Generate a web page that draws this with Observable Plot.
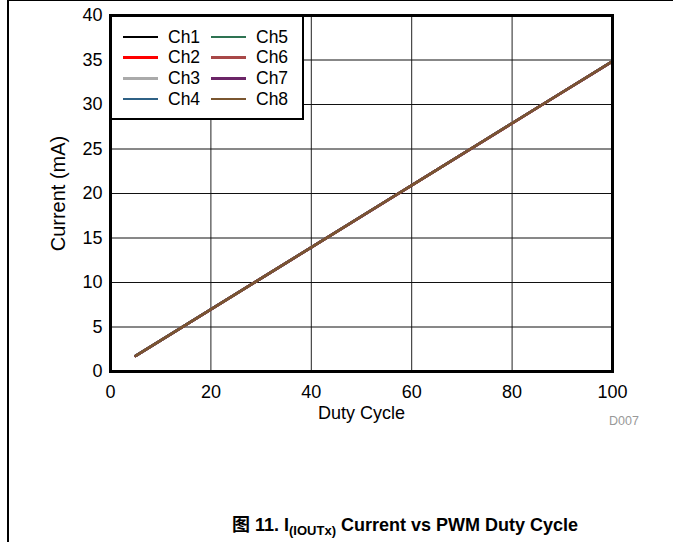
<!DOCTYPE html>
<html>
<head>
<meta charset="utf-8">
<script src="https://cdn.jsdelivr.net/npm/d3@7"></script>
<script src="https://cdn.jsdelivr.net/npm/@observablehq/plot@0.6"></script>
<style>
  html, body { margin: 0; padding: 0; background: #fff; }
  body { width: 673px; height: 542px; position: relative; overflow: hidden; font-family: "Liberation Sans", Arial, sans-serif; }
  #chart { position: absolute; left: 0; top: 0; }
  #frameTop { position: absolute; left: 7px; top: 0; width: 666px; height: 1px; background: #000; }
  #frameLeft { position: absolute; left: 7px; top: 0; width: 2px; height: 542px; background: #000; }
  #legend { position: absolute; left: 110px; top: 15px; width: 190px; height: 101px; border: 2.5px solid #000; background: #fff; }
  .item { position: absolute; height: 20px; display: flex; align-items: center; font-size: 17.5px; color: #000; }
  .swatch { width: 35px; height: 2.5px; margin-right: 10px; }
  #code { position: absolute; left: 609px; top: 414px; font-size: 12.5px; color: #999; }
  #caption { position: absolute; left: 0; width: 810px; top: 514px; line-height: 18px; text-align: center; font-size: 18px; font-weight: bold; font-family: "Liberation Sans", "Noto Sans CJK SC", sans-serif; white-space: nowrap; }
  #caption .sub { font-size: 13px; position: relative; top: 4px; }
</style>
</head>
<body>
<div id="chart"></div>
<div id="frameTop"></div>
<div id="frameLeft"></div>
<div id="legend"></div>
<div id="code">D007</div>
<div id="caption"><span style="font-family:'Noto Sans CJK SC'">图</span> 11. I<span class="sub">(IOUTx)</span> Current vs PWM Duty Cycle</div>
<script>
const duty = [5, 10, 15, 20, 25, 30, 35, 40, 45, 50, 55, 60, 65, 70, 75, 80, 85, 90, 95, 100];
const ch1 = [1.75, 3.50, 5.24, 6.98, 8.72, 10.47, 12.21, 13.95, 15.69, 17.43, 19.18, 20.92, 22.66, 24.40, 26.15, 27.89, 29.63, 31.37, 33.11, 34.85];
const ch2 = [1.74, 3.49, 5.23, 6.97, 8.71, 10.46, 12.20, 13.94, 15.68, 17.42, 19.17, 20.91, 22.65, 24.39, 26.14, 27.88, 29.62, 31.36, 33.10, 34.84];
const ch3 = [1.76, 3.50, 5.25, 6.99, 8.73, 10.48, 12.22, 13.96, 15.70, 17.44, 19.19, 20.93, 22.67, 24.41, 26.16, 27.90, 29.64, 31.38, 33.12, 34.86];
const ch4 = [1.75, 3.49, 5.24, 6.98, 8.72, 10.46, 12.21, 13.95, 15.69, 17.43, 19.17, 20.92, 22.66, 24.40, 26.14, 27.89, 29.63, 31.37, 33.11, 34.85];
const ch5 = [1.75, 3.50, 5.24, 6.99, 8.73, 10.47, 12.22, 13.96, 15.70, 17.44, 19.18, 20.93, 22.67, 24.41, 26.15, 27.90, 29.64, 31.38, 33.12, 34.87];
const ch6 = [1.74, 3.49, 5.23, 6.98, 8.72, 10.46, 12.20, 13.95, 15.69, 17.43, 19.17, 20.91, 22.66, 24.40, 26.14, 27.88, 29.63, 31.37, 33.11, 34.85];
const ch7 = [1.75, 3.50, 5.24, 6.98, 8.73, 10.47, 12.21, 13.95, 15.70, 17.44, 19.18, 20.92, 22.67, 24.41, 26.15, 27.89, 29.64, 31.38, 33.12, 34.86];
const ch8 = [1.75, 3.50, 5.24, 6.98, 8.72, 10.47, 12.21, 13.95, 15.69, 17.44, 19.18, 20.92, 22.66, 24.41, 26.15, 27.89, 29.63, 31.38, 33.12, 34.86];
const channels = ["Ch1", "Ch2", "Ch3", "Ch4", "Ch5", "Ch6", "Ch7", "Ch8"];
const colors = ["#000000", "#ff0000", "#aaaaaa", "#2f6185", "#2e7352", "#a84848", "#6b2567", "#7a5630"];
const xTicks = [0, 20, 40, 60, 80, 100];
const yTicks = [0, 5, 10, 15, 20, 25, 30, 35, 40];

const series = [ch1, ch2, ch3, ch4, ch5, ch6, ch7, ch8];
const rows = [];
series.forEach((vals, i) => vals.forEach((v, j) => rows.push({ch: channels[i], duty: duty[j], current: v})));

const chart = Plot.plot({
  width: 673,
  height: 440,
  marginLeft: 110,
  marginRight: 61,
  marginTop: 15,
  marginBottom: 69,
  style: {fontFamily: "'Liberation Sans', Arial, sans-serif", fontSize: "18px", color: "#000", background: "transparent"},
  x: {domain: [0, 100]},
  y: {domain: [0, 40]},
  color: {domain: channels, range: colors},
  marks: [
    Plot.gridX(xTicks.slice(1, -1), {stroke: "#222", strokeOpacity: 1, strokeWidth: 1}),
    Plot.gridY(yTicks.slice(1, -1), {stroke: "#111", strokeOpacity: 1, strokeWidth: 1}),
    Plot.axisX(xTicks, {tickSize: 0, tickPadding: 14, fontSize: 18, label: null}),
    Plot.axisX({ticks: [], tickSize: 0, fontSize: 18, label: "Duty Cycle", labelAnchor: "center", labelArrow: "none", labelOffset: 47}),
    Plot.axisY(yTicks, {tickSize: 0, tickPadding: 8, fontSize: 18, label: null}),
    Plot.axisY({ticks: [], tickSize: 0, fontSize: 20, label: "Current (mA)", labelAnchor: "center", labelArrow: "none", labelOffset: 60}),
    Plot.line(rows, {x: "duty", y: "current", z: "ch", stroke: "ch", strokeWidth: 2.5}),
    Plot.frame({stroke: "#000", strokeWidth: 3})
  ]
});
document.getElementById("chart").appendChild(chart);

const legend = document.getElementById("legend");
channels.forEach((c, i) => {
  const col = Math.floor(i / 4), row = i % 4;
  const it = document.createElement("div");
  it.className = "item";
  it.style.left = (11 + col * 88) + "px";
  it.style.top = (10 + row * 20.7) + "px";
  it.innerHTML = `<span class="swatch" style="background:${colors[i]}"></span><span>${c}</span>`;
  legend.appendChild(it);
});
</script>
</body>
</html>
